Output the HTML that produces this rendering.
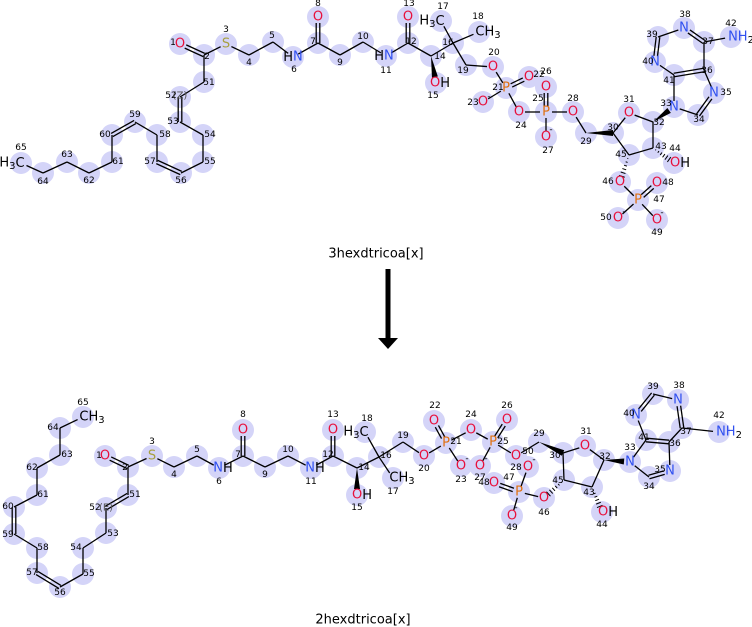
<!DOCTYPE html>
<html><head><meta charset="utf-8"><style>
html,body{margin:0;padding:0;background:#fff;}
svg{display:block;}
text{font-family:"DejaVu Sans","Liberation Sans",sans-serif;}
.s{font-size:13px;text-anchor:middle;dominant-baseline:central;}
.n{font-size:9px;fill:#000;text-anchor:middle;dominant-baseline:central;}
.O{fill:#e8103c}.N{fill:#3050f0}.S{fill:#a8a040}.P{fill:#e07010}.C{fill:#000}
</style></head><body>
<svg id="sv" width="752" height="627" viewBox="0 0 752 627" xmlns="http://www.w3.org/2000/svg">
<g id="circ"></g>
<g id="bonds" stroke="#000" stroke-width="1.3" fill="none"></g>
<g id="wed" fill="#000"></g>
<!-- arrow -->
<rect x="385.5" y="269" width="5" height="70" fill="#000"/>
<polygon points="378,338 398,338 388,349" fill="#000"/>
<text x="376" y="254" style="font-size:13px;text-anchor:middle;dominant-baseline:central">3hexdtricoa[x]</text>
<text x="363" y="620" style="font-size:13px;text-anchor:middle;dominant-baseline:central">2hexdtricoa[x]</text>

<!-- TOP symbols -->
<g class="s">
<text class="O" x="180" y="44">O</text>
<text class="S" x="226" y="44">S</text>
<text class="N" x="293" y="57"><tspan class="C" style="fill:#000">H</tspan>N</text>
<text class="O" x="318" y="17">O</text>
<text class="N" x="384" y="56"><tspan style="fill:#000">H</tspan>N</text>
<text class="O" x="408" y="17">O</text>
<text class="O" x="440" y="83">O<tspan style="fill:#000">H</tspan></text>
<text x="432" y="21">H<tspan font-size="10" dy="3">3</tspan><tspan dy="-3">C</tspan></text>
<text x="488" y="32">CH<tspan font-size="10" dy="3">3</tspan></text>
<text class="O" x="493" y="67">O</text>
<text class="P" x="506" y="88">P</text>
<text class="O" x="529" y="77">O</text>
<text class="O" x="483" y="102">O</text>
<text class="O" x="519" y="112">O</text>
<text class="P" x="546" y="112">P</text>
<text class="O" x="546" y="87">O</text>
<text class="O" x="546" y="137">O</text>
<text class="O" x="573" y="112">O</text>
<text class="O" x="629" y="113">O</text>
<text class="N" x="674" y="107">N</text>
<text class="N" x="714" y="93">N</text>
<text class="N" x="684" y="28">N</text>
<text class="N" x="655" y="62">N</text>
<text class="N" x="741" y="37">NH<tspan font-size="10" dy="3" style="fill:#000">2</tspan></text>
<text class="O" x="680" y="163">O<tspan style="fill:#000">H</tspan></text>
<text class="O" x="620" y="182">O</text>
<text class="P" x="638" y="200">P</text>
<text class="O" x="657" y="183">O</text>
<text class="O" x="657" y="220">O</text>
<text class="O" x="618" y="218">O</text>
<text x="12" y="163">H<tspan font-size="10" dy="3">3</tspan><tspan dy="-3">C</tspan></text>
<text x="180" y="96" style="font-size:10px;fill:#555">(Z)</text>
<text x="489" y="97" style="font-size:9px">-</text>
<text x="551" y="130" style="font-size:9px">-</text>
<text x="662" y="213" style="font-size:9px">-</text>
<text x="624" y="212" style="font-size:9px">-</text>
</g>
<!-- TOP numbers -->
<g class="n">
<text x="173" y="43">1</text><text x="207" y="57">2</text><text x="226" y="30">3</text><text x="249" y="63">4</text><text x="272" y="36">5</text><text x="294" y="70">6</text><text x="313" y="42">7</text><text x="318" y="4">8</text><text x="340" y="63">9</text><text x="363" y="37">10</text><text x="386" y="71">11</text><text x="411" y="42">12</text><text x="409" y="4">13</text><text x="440" y="57">14</text><text x="433" y="96">15</text><text x="448" y="43">16</text><text x="443" y="7">17</text><text x="478" y="17">18</text><text x="463" y="71">19</text><text x="494" y="53">20</text><text x="498" y="88">21</text><text x="539" y="75">22</text><text x="473" y="103">23</text><text x="521" y="126">24</text><text x="538" y="99">25</text><text x="546" y="72">26</text><text x="548" y="151">27</text><text x="573" y="99">28</text><text x="586" y="142">29</text><text x="613" y="128">30</text><text x="629" y="100">31</text><text x="659" y="123">32</text><text x="666" y="104">33</text><text x="699" y="120">34</text><text x="726" y="93">35</text><text x="707" y="71">36</text><text x="708" y="42">37</text><text x="685" y="15">38</text><text x="652" y="35">39</text><text x="648" y="62">40</text><text x="669" y="81">41</text><text x="731" y="24">42</text><text x="661" y="147">43</text><text x="675" y="149">44</text><text x="621" y="155">45</text><text x="608" y="182">46</text><text x="659" y="200">47</text><text x="668" y="183">48</text><text x="657" y="233">49</text><text x="606" y="218">50</text><text x="209" y="83">51</text><text x="171" y="96">52</text><text x="173" y="122">53</text><text x="210" y="135">54</text><text x="210" y="162">55</text><text x="181" y="181">56</text><text x="150" y="162">57</text><text x="165" y="135">58</text><text x="135" y="115">59</text><text x="105" y="135">60</text><text x="118" y="162">61</text><text x="89" y="181">62</text><text x="67" y="155">63</text><text x="43" y="182">64</text><text x="21" y="148">65</text>
</g>

<!-- BOTTOM symbols -->
<g class="s">
<text class="O" x="105" y="456">O</text>
<text class="S" x="152" y="456">S</text>
<text class="N" x="223" y="468">N<tspan style="fill:#000">H</tspan></text>
<text class="O" x="243" y="430">O</text>
<text class="N" x="315" y="468">N<tspan style="fill:#000">H</tspan></text>
<text class="O" x="333" y="430">O</text>
<text class="O" x="362" y="495">O<tspan style="fill:#000">H</tspan></text>
<text x="356" y="432">H<tspan font-size="10" dy="3">3</tspan><tspan dy="-3">C</tspan></text>
<text x="402" y="478">CH<tspan font-size="10" dy="3">3</tspan></text>
<text class="O" x="424" y="456">O</text>
<text class="P" x="446" y="443">P</text>
<text class="O" x="434" y="421">O</text>
<text class="O" x="461" y="466">O</text>
<text class="O" x="471" y="430">O</text>
<text class="P" x="493" y="442">P</text>
<text class="O" x="507" y="420">O</text>
<text class="O" x="480" y="466">O</text>
<text class="O" x="516" y="456">O</text>
<text class="O" x="585" y="446">O</text>
<text class="N" x="630" y="462">N</text>
<text class="N" x="670" y="471">N</text>
<text class="N" x="678" y="400">N</text>
<text class="N" x="636" y="415">N</text>
<text class="N" x="729" y="432">NH<tspan font-size="10" dy="3" style="fill:#000">2</tspan></text>
<text class="O" x="608" y="512">O<tspan style="fill:#000">H</tspan></text>
<text class="O" x="544" y="498">O</text>
<text class="P" x="519" y="492">P</text>
<text class="O" x="494" y="483">O</text>
<text class="O" x="512" y="516">O</text>
<text class="O" x="528" y="467">O</text>
<text x="92" y="417">CH<tspan font-size="10" dy="3">3</tspan></text>
<text x="106" y="508" style="font-size:10px;fill:#555">(E)</text>
<text x="467" y="459" style="font-size:9px">-</text>
<text x="486" y="459" style="font-size:9px">-</text>
<text x="534" y="460" style="font-size:9px">-</text>
<text x="516" y="508" style="font-size:9px">-</text>
</g>
<!-- BOTTOM numbers -->
<g class="n">
<text x="99" y="456">1</text><text x="125" y="468">2</text><text x="152" y="442">3</text><text x="174" y="475">4</text><text x="197" y="450">5</text><text x="219" y="482">6</text><text x="238" y="455">7</text><text x="243" y="415">8</text><text x="265" y="475">9</text><text x="288" y="450">10</text><text x="311" y="482">11</text><text x="328" y="455">12</text><text x="333" y="415">13</text><text x="364" y="468">14</text><text x="357" y="508">15</text><text x="386" y="456">16</text><text x="393" y="492">17</text><text x="367" y="419">18</text><text x="403" y="436">19</text><text x="424" y="469">20</text><text x="456" y="442">21</text><text x="435" y="406">22</text><text x="461" y="480">23</text><text x="471" y="415">24</text><text x="503" y="442">25</text><text x="507" y="406">26</text><text x="480" y="478">27</text><text x="516" y="468">28</text><text x="539" y="434">29</text><text x="555" y="456">30</text><text x="586" y="432">31</text><text x="605" y="457">32</text><text x="630" y="448">33</text><text x="649" y="487">34</text><text x="660" y="470">35</text><text x="675" y="444">36</text><text x="686" y="432">37</text><text x="679" y="386">38</text><text x="653" y="387">39</text><text x="629" y="414">40</text><text x="644" y="438">41</text><text x="719" y="416">42</text><text x="589" y="493">43</text><text x="602" y="525">44</text><text x="558" y="481">45</text><text x="544" y="513">46</text><text x="509" y="478">47</text><text x="484" y="483">48</text><text x="512" y="528">49</text><text x="528" y="452">50</text><text x="135" y="495">51</text><text x="95" y="508">52</text><text x="113" y="534">53</text><text x="76" y="548">54</text><text x="89" y="574">55</text><text x="60" y="593">56</text><text x="32" y="573">57</text><text x="43" y="548">58</text><text x="8" y="535">59</text><text x="8" y="507">60</text><text x="43" y="495">61</text><text x="32" y="468">62</text><text x="67" y="455">63</text><text x="53" y="428">64</text><text x="83" y="403">65</text>
</g>
</svg>
<script>
(function(){
var T={1:[180,44],2:[204,55],3:[226,44],4:[249,55],5:[273,42],6:[293,57],7:[318,43],8:[318,17],9:[340,55],10:[363,42],11:[386,56],12:[408,43],13:[408,17],14:[431,56],15:[436,83],16:[453,43],17:[441,21],18:[479,32],19:[466,65],20:[493,67],21:[506,88],22:[529,77],23:[483,102],24:[519,112],25:[546,112],26:[546,87],27:[546,137],28:[573,112],29:[586,133],30:[613,133],31:[629,113],32:[653,122],33:[674,107],34:[698,115],35:[714,93],36:[704,70],37:[704,42],38:[684,28],39:[658,37],40:[655,62],41:[674,75],42:[731,37],43:[653,148],44:[674,163],45:[629,155],46:[620,182],47:[638,200],48:[657,183],49:[657,220],50:[618,218],51:[204,82],52:[180,97],53:[180,122],54:[203,135],55:[203,162],56:[181,173],57:[157,162],58:[157,135],59:[135,122],60:[112,135],61:[112,162],62:[89,173],63:[67,162],64:[43,173],65:[21,163]};
var B={1:[105,456],2:[128,467],3:[152,456],4:[174,467],5:[197,456],6:[219,468],7:[243,456],8:[243,430],9:[265,467],10:[288,456],11:[311,468],12:[333,456],13:[333,430],14:[357,468],15:[357,495],16:[379,457],17:[393,478],18:[365,432],19:[403,442],20:[424,456],21:[446,443],22:[434,421],23:[461,466],24:[471,430],25:[493,442],26:[507,420],27:[480,466],28:[516,456],29:[539,442],30:[563,453],31:[585,446],32:[604,460],33:[630,462],34:[649,477],35:[670,471],36:[669,442],37:[682,428],38:[678,400],39:[653,394],40:[636,415],41:[646,440],42:[719,432],43:[592,487],44:[602,512],45:[564,480],46:[544,498],47:[519,492],48:[494,483],49:[512,516],50:[528,467],51:[128,495],52:[106,508],53:[106,533],54:[83,548],55:[83,574],56:[60,587],57:[37,573],58:[37,548],59:[14,534],60:[14,507],61:[37,495],62:[37,468],63:[60,455],64:[60,428],65:[83,417]};
var lab={1:1,3:1,6:1,8:1,11:1,13:1,15:1,17:1,18:1,20:1,21:1,22:1,23:1,24:1,25:1,26:1,27:1,28:1,31:1,33:1,35:1,38:1,40:1,42:1,44:1,46:1,47:1,48:1,49:1,50:1,65:1};
var common="1=2 2-3 3-4 4-5 5-6 6-7 7=8 7-9 9-10 10-11 11-12 12=13 12-14 14w15 14-16 16-17 16-18 16-19 19-20 20-21 21=22 21-23 21-24 24-25 25=26 25-27 25-28 28-29 29w30 30-31 31-32 32w33 32-43 43h44 43-45 45-30 45h46 46-47 47=48 47-49 47-50 33-34 34=35 35-36 36=41 41-33 41-40 40=39 39-38 38=37 37-36 37-42 2-51 53-54 54-55 55-56 56=57 57-58 58-59 59=60 60-61 61-62 62-63 63-64 64-65";
var top=common+" 51-52 52=53", bot=common+" 51=52 52-53";
var NS="http://www.w3.org/2000/svg";
var gc=document.getElementById('circ'),gb=document.getElementById('bonds'),gw=document.getElementById('wed');
function el(g,n,a){var e=document.createElementNS(NS,n);for(var k in a)e.setAttribute(k,a[k]);g.appendChild(e);return e;}
function draw(P,bs){
 for(var k in P) el(gc,'circle',{cx:P[k][0],cy:P[k][1],r:11,fill:'#d4d4f8'});
 bs.split(' ').forEach(function(s){
  var m=s.match(/(\d+)([-=wh])(\d+)/);var a=+m[1],t=m[2],b=+m[3];
  var x1=P[a][0],y1=P[a][1],x2=P[b][0],y2=P[b][1];
  var dx=x2-x1,dy=y2-y1,L=Math.sqrt(dx*dx+dy*dy),ux=dx/L,uy=dy/L;
  var s1=lab[a]?6:0,s2=lab[b]?6:0;
  x1+=ux*s1;y1+=uy*s1;x2-=ux*s2;y2-=uy*s2;
  var px=-uy,py=ux;
  if(t=='-')el(gb,'line',{x1:x1,y1:y1,x2:x2,y2:y2});
  else if(t=='='){var o=1.8;
   el(gb,'line',{x1:x1+px*o,y1:y1+py*o,x2:x2+px*o,y2:y2+py*o});
   el(gb,'line',{x1:x1-px*o,y1:y1-py*o,x2:x2-px*o,y2:y2-py*o});}
  else if(t=='w'){var w=3;
   el(gw,'polygon',{points:x1+','+y1+' '+(x2+px*w)+','+(y2+py*w)+' '+(x2-px*w)+','+(y2-py*w)});}
  else { var n=6;for(var i=1;i<=n;i++){var f=i/n,xx=x1+(x2-x1)*f,yy=y1+(y2-y1)*f,w=3*f;
   el(gb,'line',{x1:xx+px*w,y1:yy+py*w,x2:xx-px*w,y2:yy-py*w,'stroke-width':1});}}
 });
}
draw(T,top);draw(B,bot);
})();
</script>
</body></html>
